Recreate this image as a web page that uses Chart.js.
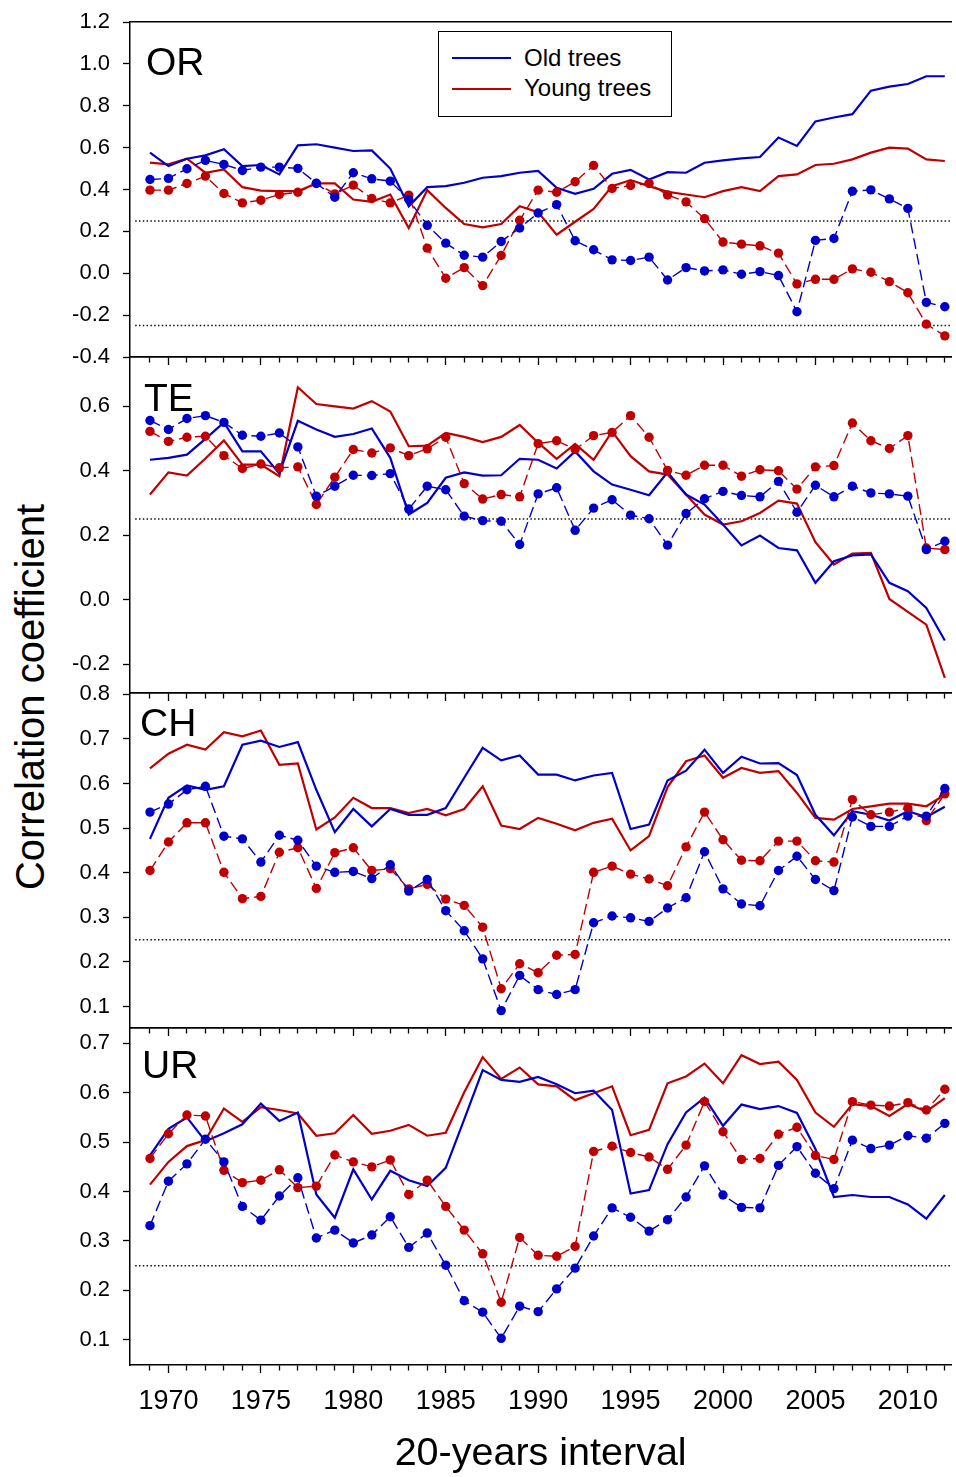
<!DOCTYPE html>
<html>
<head>
<meta charset="utf-8">
<script src="https://cdn.jsdelivr.net/npm/chart.js@4/dist/chart.umd.min.js"></script>
<style>
  html, body { margin: 0; padding: 0; background: #fff; }
  #wrap { position: relative; width: 956px; height: 1477px; overflow: hidden;
          font-family: "Liberation Sans", Arial, sans-serif; color: #000; }
  .panel { position: absolute; left: 0; width: 956px; }
  .tag { position: absolute; font-size: 39px; line-height: 39px; }
  #legend { position: absolute; left: 438px; top: 31px; width: 234px; height: 86px;
            box-sizing: border-box; border: 1.5px solid #000; background: #fff; }
  .lg-line { position: absolute; left: 13px; width: 59px; height: 2px; }
  .lg-text { position: absolute; left: 85px; font-size: 24px; line-height: 24px; white-space: nowrap; }
  #ytitle { position: absolute; left: -270px; top: 674px; width: 600px; height: 46px;
            line-height: 46px; font-size: 40px; text-align: center;
            transform: rotate(-90deg); white-space: nowrap; }
</style>
</head>
<body>
<div id="wrap">
  <div id="ytitle">Correlation coefficient</div>
</div>
<script>
// --- dados ----------------------------------------------------------------
var YEARS = [1969, 1970, 1971, 1972, 1973, 1974, 1975, 1976, 1977, 1978, 1979,
  1980, 1981, 1982, 1983, 1984, 1985, 1986, 1987, 1988, 1989, 1990, 1991, 1992,
  1993, 1994, 1995, 1996, 1997, 1998, 1999, 2000, 2001, 2002, 2003, 2004, 2005,
  2006, 2007, 2008, 2009, 2010, 2011, 2012];

var OR_OLD = [0.576, 0.512, 0.547, 0.563, 0.592, 0.512, 0.517, 0.472, 0.611, 0.616, 0.600,
  0.584, 0.587, 0.500, 0.320, 0.411, 0.416, 0.432, 0.456, 0.464, 0.480, 0.489, 0.408, 0.379,
  0.403, 0.475, 0.494, 0.448, 0.483, 0.480, 0.528, 0.539, 0.549, 0.555, 0.648, 0.608, 0.725,
  0.744, 0.760, 0.872, 0.891, 0.904, 0.941, 0.941];
var OR_YOUNG = [0.528, 0.520, 0.547, 0.480, 0.496, 0.411, 0.395, 0.392, 0.392, 0.429, 0.429,
  0.352, 0.341, 0.376, 0.216, 0.397, 0.312, 0.235, 0.219, 0.235, 0.320, 0.292, 0.184, 0.246,
  0.307, 0.416, 0.445, 0.416, 0.389, 0.376, 0.363, 0.392, 0.411, 0.392, 0.464, 0.472, 0.517,
  0.523, 0.544, 0.576, 0.600, 0.595, 0.544, 0.536];
var OR_OLD_DOTS = [0.448, 0.453, 0.499, 0.539, 0.520, 0.491, 0.507, 0.507, 0.501, 0.430, 0.363,
  0.480, 0.451, 0.440, 0.352, 0.229, 0.144, 0.086, 0.077, 0.152, 0.216, 0.288, 0.328, 0.155,
  0.112, 0.064, 0.061, 0.077, -0.032, 0.027, 0.011, 0.016, -0.005, 0.008, -0.011, -0.184, 0.157,
  0.166, 0.392, 0.398, 0.355, 0.310, -0.139, -0.160];
var OR_YOUNG_DOTS = [0.397, 0.397, 0.429, 0.464, 0.381, 0.336, 0.349, 0.376, 0.387, 0.429, 0.379,
  0.421, 0.357, 0.336, 0.373, 0.120, -0.024, 0.027, -0.059, 0.085, 0.253, 0.397, 0.387, 0.437,
  0.515, 0.405, 0.419, 0.429, 0.374, 0.341, 0.261, 0.149, 0.139, 0.131, 0.096, -0.051, -0.029,
  -0.029, 0.021, 0.005, -0.040, -0.093, -0.243, -0.299];

var TE_OLD = [0.434, 0.440, 0.450, 0.499, 0.550, 0.460, 0.460, 0.391, 0.555, 0.528, 0.505,
  0.514, 0.531, 0.440, 0.264, 0.300, 0.378, 0.395, 0.385, 0.386, 0.437, 0.434, 0.407, 0.460,
  0.398, 0.357, 0.341, 0.324, 0.395, 0.326, 0.295, 0.233, 0.168, 0.199, 0.160, 0.153, 0.052,
  0.119, 0.137, 0.140, 0.052, 0.026, -0.026, -0.127];
var TE_YOUNG = [0.326, 0.395, 0.385, 0.438, 0.494, 0.419, 0.419, 0.383, 0.659, 0.607, 0.600,
  0.593, 0.616, 0.584, 0.476, 0.478, 0.517, 0.505, 0.489, 0.505, 0.542, 0.487, 0.437, 0.483,
  0.434, 0.522, 0.445, 0.398, 0.388, 0.326, 0.264, 0.233, 0.243, 0.269, 0.307, 0.298, 0.178,
  0.109, 0.143, 0.145, 0.002, -0.038, -0.078, -0.243];
var TE_OLD_DOTS = [0.556, 0.528, 0.562, 0.571, 0.550, 0.510, 0.507, 0.517, 0.474, 0.321, 0.352,
  0.386, 0.385, 0.391, 0.281, 0.352, 0.341, 0.259, 0.245, 0.243, 0.171, 0.328, 0.347, 0.215,
  0.284, 0.310, 0.262, 0.251, 0.169, 0.267, 0.313, 0.336, 0.323, 0.319, 0.367, 0.271, 0.355,
  0.319, 0.352, 0.331, 0.328, 0.321, 0.155, 0.181];
var TE_YOUNG_DOTS = [0.522, 0.491, 0.504, 0.507, 0.447, 0.407, 0.421, 0.409, 0.412, 0.295, 0.380,
  0.466, 0.455, 0.471, 0.447, 0.468, 0.504, 0.360, 0.312, 0.326, 0.319, 0.484, 0.493, 0.466,
  0.509, 0.519, 0.571, 0.504, 0.401, 0.386, 0.417, 0.417, 0.383, 0.403, 0.400, 0.343, 0.412,
  0.416, 0.548, 0.493, 0.469, 0.509, 0.160, 0.155];

var CH_OLD = [0.476, 0.568, 0.596, 0.586, 0.594, 0.687, 0.696, 0.682, 0.693, 0.586, 0.491,
  0.543, 0.504, 0.543, 0.530, 0.530, 0.545, 0.613, 0.680, 0.652, 0.663, 0.620, 0.620, 0.607,
  0.618, 0.624, 0.498, 0.508, 0.607, 0.629, 0.676, 0.624, 0.660, 0.645, 0.646, 0.619, 0.530,
  0.484, 0.538, 0.530, 0.517, 0.538, 0.525, 0.548];
var CH_YOUNG = [0.634, 0.667, 0.687, 0.676, 0.715, 0.706, 0.719, 0.642, 0.645, 0.497, 0.524,
  0.568, 0.545, 0.545, 0.534, 0.543, 0.529, 0.543, 0.594, 0.506, 0.498, 0.523, 0.510, 0.495,
  0.512, 0.521, 0.450, 0.482, 0.592, 0.650, 0.663, 0.613, 0.635, 0.624, 0.628, 0.579, 0.523,
  0.519, 0.543, 0.549, 0.555, 0.555, 0.549, 0.575];
var CH_OLD_DOTS = [0.536, 0.554, 0.586, 0.594, 0.482, 0.476, 0.424, 0.484, 0.473, 0.415, 0.401,
  0.403, 0.387, 0.418, 0.359, 0.385, 0.315, 0.270, 0.207, 0.091, 0.170, 0.138, 0.127, 0.138,
  0.288, 0.303, 0.299, 0.291, 0.321, 0.344, 0.447, 0.364, 0.330, 0.326, 0.405, 0.437, 0.385,
  0.360, 0.525, 0.504, 0.504, 0.527, 0.527, 0.589];
var CH_YOUNG_DOTS = [0.405, 0.469, 0.512, 0.512, 0.401, 0.342, 0.347, 0.446, 0.456, 0.365, 0.445,
  0.456, 0.405, 0.409, 0.364, 0.374, 0.341, 0.327, 0.278, 0.140, 0.196, 0.176, 0.215, 0.217,
  0.401, 0.415, 0.397, 0.386, 0.371, 0.458, 0.536, 0.474, 0.428, 0.427, 0.471, 0.471, 0.427,
  0.424, 0.564, 0.530, 0.536, 0.545, 0.517, 0.577];

var UR_OLD = [0.473, 0.527, 0.550, 0.502, 0.518, 0.536, 0.578, 0.543, 0.560, 0.394, 0.347,
  0.445, 0.384, 0.442, 0.423, 0.411, 0.448, 0.546, 0.646, 0.626, 0.622, 0.632, 0.617, 0.599,
  0.604, 0.565, 0.396, 0.403, 0.496, 0.560, 0.590, 0.533, 0.576, 0.567, 0.573, 0.559, 0.486,
  0.389, 0.393, 0.389, 0.389, 0.374, 0.345, 0.393];
var UR_YOUNG = [0.414, 0.460, 0.492, 0.504, 0.568, 0.541, 0.571, 0.565, 0.558, 0.513, 0.518,
  0.555, 0.517, 0.523, 0.535, 0.513, 0.519, 0.601, 0.672, 0.628, 0.651, 0.617, 0.613, 0.585,
  0.599, 0.613, 0.514, 0.525, 0.619, 0.633, 0.659, 0.619, 0.676, 0.658, 0.663, 0.626, 0.560,
  0.531, 0.577, 0.573, 0.553, 0.577, 0.562, 0.589];
var UR_OLD_DOTS = [0.331, 0.421, 0.456, 0.506, 0.460, 0.370, 0.342, 0.391, 0.428, 0.306, 0.322,
  0.296, 0.312, 0.349, 0.287, 0.316, 0.251, 0.179, 0.156, 0.103, 0.168, 0.157, 0.203, 0.245,
  0.310, 0.367, 0.348, 0.320, 0.343, 0.389, 0.452, 0.393, 0.368, 0.367, 0.453, 0.491, 0.437,
  0.406, 0.504, 0.487, 0.494, 0.513, 0.508, 0.538];
var UR_YOUNG_DOTS = [0.467, 0.517, 0.555, 0.553, 0.443, 0.418, 0.423, 0.444, 0.408, 0.411, 0.474,
  0.460, 0.450, 0.464, 0.394, 0.423, 0.370, 0.322, 0.274, 0.176, 0.307, 0.271, 0.269, 0.289,
  0.481, 0.492, 0.479, 0.470, 0.445, 0.494, 0.582, 0.521, 0.465, 0.467, 0.516, 0.530, 0.473,
  0.465, 0.582, 0.575, 0.573, 0.580, 0.565, 0.607];

// ticks do eixo y e linhas pontilhadas de referência de cada painel
var OR_TICKS = [-0.4, -0.2, 0.0, 0.2, 0.4, 0.6, 0.8, 1.0, 1.2];
var TE_TICKS = [-0.2, 0.0, 0.2, 0.4, 0.6];
var CH_TICKS = [0.1, 0.2, 0.3, 0.4, 0.5, 0.6, 0.7, 0.8];
var UR_TICKS = [0.1, 0.2, 0.3, 0.4, 0.5, 0.6, 0.7];
var OR_REFS = [0.25, -0.25];
var OTHER_REFS = [0.25];

var PANEL_NAMES = ["OR", "TE", "CH", "UR"];
var LEGEND_LABELS = ["Old trees", "Young trees"];
var X_LABEL = "20-years interval";

// --- layout / estilo --------------------------------------------------------
var BLUE = "#0000c8", RED = "#c00000";
var X_MIN = 1967.92, X_MAX = 2012.35, REF_START = 1968.2;
var PAD = 16, AXIS_W = 130;
var FONT = "'Liberation Sans', Arial, sans-serif";

var panels = [
  { name: PANEL_NAMES[0], top: 22, bottom: 357, min: -0.4, max: 1.2, ticks: OR_TICKS, refs: OR_REFS,
    series: [OR_OLD, OR_YOUNG, OR_OLD_DOTS, OR_YOUNG_DOTS], tag: [146, 41.5] },
  { name: PANEL_NAMES[1], top: 357, bottom: 693, min: -0.29, max: 0.753, ticks: TE_TICKS, refs: OTHER_REFS,
    series: [TE_OLD, TE_YOUNG, TE_OLD_DOTS, TE_YOUNG_DOTS], tag: [144, 377.5] },
  { name: PANEL_NAMES[2], top: 693, bottom: 1028, min: 0.052, max: 0.803, ticks: CH_TICKS, refs: OTHER_REFS,
    series: [CH_OLD, CH_YOUNG, CH_OLD_DOTS, CH_YOUNG_DOTS], tag: [140, 702.8] },
  { name: PANEL_NAMES[3], top: 1028, bottom: 1365, min: 0.049, max: 0.731, ticks: UR_TICKS, refs: OTHER_REFS,
    series: [UR_OLD, UR_YOUNG, UR_OLD_DOTS, UR_YOUNG_DOTS], tag: [142, 1044.8] }
];

Chart.defaults.font.family = FONT;
Chart.defaults.color = "#000";

function xy(values) {
  return values.map(function (v, i) { return { x: YEARS[i], y: v }; });
}

function solid(values, color) {
  return { data: xy(values), borderColor: color, borderWidth: 2.2, pointRadius: 0, order: 1 };
}

function dotted(values, color) {
  return { data: xy(values), borderColor: color, borderWidth: 1.4, borderDash: [11, 5],
    pointRadius: 4.7, pointBackgroundColor: color, pointBorderWidth: 0, order: 0 };
}

function refLine(v) {
  return { data: [{ x: REF_START, y: v }, { x: X_MAX, y: v }], borderColor: "#111",
    borderWidth: 1.5, borderDash: [1.5, 2.3], pointRadius: 0, order: 2 };
}

// zera o recuo automático que o Chart.js reserva para os rótulos das pontas,
// assim a área do gráfico fica exatamente onde o painel manda.
function noEdgePadding(s) {
  s.paddingTop = 0; s.paddingBottom = 0; s.paddingLeft = 0; s.paddingRight = 0;
}

var wrap = document.getElementById("wrap");

panels.forEach(function (p, k) {
  var last = k === panels.length - 1;
  var bottomH = last ? 1477 - p.bottom : 20;
  var h = (p.bottom - p.top) + PAD + bottomH;

  var box = document.createElement("div");
  box.className = "panel";
  box.style.top = (p.top - PAD) + "px";
  box.style.height = h + "px";
  var canvas = document.createElement("canvas");
  canvas.width = 956; canvas.height = h;
  box.appendChild(canvas);
  wrap.appendChild(box);

  var datasets = [
    solid(p.series[0], BLUE), solid(p.series[1], RED),
    dotted(p.series[2], BLUE), dotted(p.series[3], RED)
  ].concat(p.refs.map(refLine));

  new Chart(canvas, {
    type: "line",
    data: { datasets: datasets },
    options: {
      responsive: false,
      animation: false,
      events: [],
      layout: { padding: { top: PAD, left: 0, right: 0, bottom: 0 } },
      elements: { line: { tension: 0 } },
      plugins: { legend: { display: false }, tooltip: { enabled: false } },
      scales: {
        x: {
          type: "linear", position: "bottom", min: X_MIN, max: X_MAX,
          afterBuildTicks: function (s) { s.ticks = YEARS.map(function (y) { return { value: y }; }); },
          afterFit: function (s) { s.height = bottomH; noEdgePadding(s); },
          border: { color: "#000", width: 1.5 },
          grid: {
            drawOnChartArea: false, tickLength: 8, tickColor: "#000", tickWidth: 1.3,
            tickBorderDash: function (c) { return c.tick && c.tick.value % 5 ? [5, 40] : []; }
          },
          ticks: {
            display: last, autoSkip: false, maxRotation: 0, padding: 12,
            font: { size: 27 },
            callback: function (v) { return v % 5 === 0 ? String(v) : ""; }
          },
          title: { display: last, text: X_LABEL, font: { size: 39.5, lineHeight: 1 },
                   padding: { top: 0, bottom: 3 } }
        },
        xTop: {
          type: "linear", position: "top", min: X_MIN, max: X_MAX,
          afterFit: function (s) { s.height = 0; noEdgePadding(s); },
          border: { color: "#000", width: 1.5 },
          grid: { drawOnChartArea: false, drawTicks: false },
          ticks: { display: false }
        },
        y: {
          position: "left", min: p.min, max: p.max,
          afterBuildTicks: function (s) { s.ticks = p.ticks.map(function (v) { return { value: v }; }); },
          afterFit: function (s) { s.width = AXIS_W; noEdgePadding(s); },
          border: { color: "#000", width: 1.5 },
          grid: { drawOnChartArea: false, tickLength: 7, tickColor: "#000", tickWidth: 1.3 },
          ticks: { padding: 13, font: { size: 22 }, callback: function (v) { return v.toFixed(1); } }
        }
      }
    }
  });

  var tag = document.createElement("div");
  tag.className = "tag";
  tag.textContent = p.name;
  tag.style.left = p.tag[0] + "px";
  tag.style.top = p.tag[1] + "px";
  wrap.appendChild(tag);
});

// legenda (caixa com duas entradas)
var legend = document.createElement("div");
legend.id = "legend";
[BLUE, RED].forEach(function (c, i) {
  var line = document.createElement("div");
  line.className = "lg-line";
  line.style.background = c;
  line.style.top = (25 + i * 30.5) + "px";
  legend.appendChild(line);
  var txt = document.createElement("div");
  txt.className = "lg-text";
  txt.textContent = LEGEND_LABELS[i];
  txt.style.top = (13.5 + i * 30.5) + "px";
  legend.appendChild(txt);
});
wrap.appendChild(legend);
</script>
</body>
</html>
